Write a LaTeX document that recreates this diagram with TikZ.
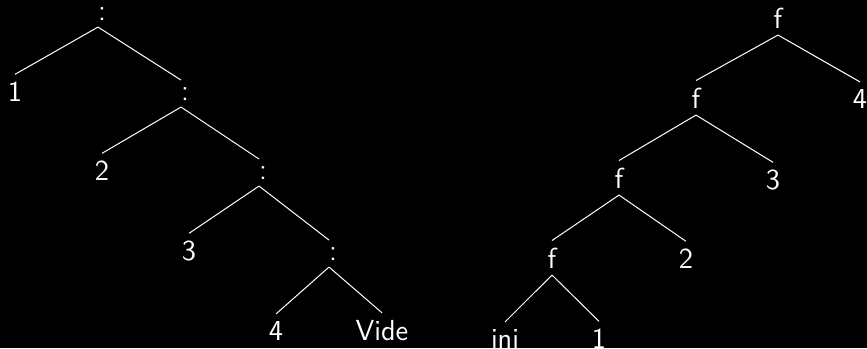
\documentclass[tikz,border=0pt]{standalone}
\begin{document}
\begin{tikzpicture}[x=0.5pt,y=-0.5pt,
  lbl/.style={text=white,font=\fontsize{14.5}{17}\sffamily\selectfont,anchor=base},
  edge/.style={draw=white,line width=0.5pt}]
\fill[black] (0,0) rectangle (867,348);
\useasboundingbox (0,0) rectangle (867,348);
\clip (0,0) rectangle (867,348);

% list 1:2:3:4:Vide
\node[lbl] (c1) at (98,20)  {\kern4pt:};
\node[lbl] (n1) at (15,101) {1};
\node[lbl] (c2) at (181,100) {\kern4pt:};
\node[lbl] (n2) at (102,180) {2};
\node[lbl] (c3) at (259,179) {\kern4pt:};
\node[lbl] (n3) at (189,260) {3};
\node[lbl] (c4) at (329,260) {\kern4pt:};
\node[lbl] (n4) at (276,340) {4};
\node[lbl] (vide) at (382,340) {Vide};

\draw[edge] (c1.south) -- (n1.north);
\draw[edge] (c1.south) -- (c2.north);
\draw[edge] (c2.south) -- (n2.north);
\draw[edge] (c2.south) -- (c3.north);
\draw[edge] (c3.south) -- (n3.north);
\draw[edge] (c3.south) -- (c4.north);
\draw[edge] (c4.south) -- (n4.north);
\draw[edge] (c4.south) -- (vide.north);

% fold: f (f (f (f ini 1) 2) 3) 4
\node[lbl] (f1) at (778,28)  {f};
\node[lbl] (f2) at (696,108) {f};
\node[lbl] (m4) at (860,108) {4};
\node[lbl] (f3) at (619,188) {f};
\node[lbl] (m3) at (773,189) {3};
\node[lbl] (f4) at (552,268) {f};
\node[lbl] (m2) at (686,268) {2};
\node[lbl] (ini) at (505,348) {ini};
\node[lbl] (m1) at (599,348) {1};

\draw[edge] (f1.south) -- (f2.north);
\draw[edge] (f1.south) -- (m4.north);
\draw[edge] (f2.south) -- (f3.north);
\draw[edge] (f2.south) -- (m3.north);
\draw[edge] (f3.south) -- (f4.north);
\draw[edge] (f3.south) -- (m2.north);
\draw[edge] (f4.south) -- (ini.north);
\draw[edge] (f4.south) -- (m1.north);
\end{tikzpicture}
\end{document}
